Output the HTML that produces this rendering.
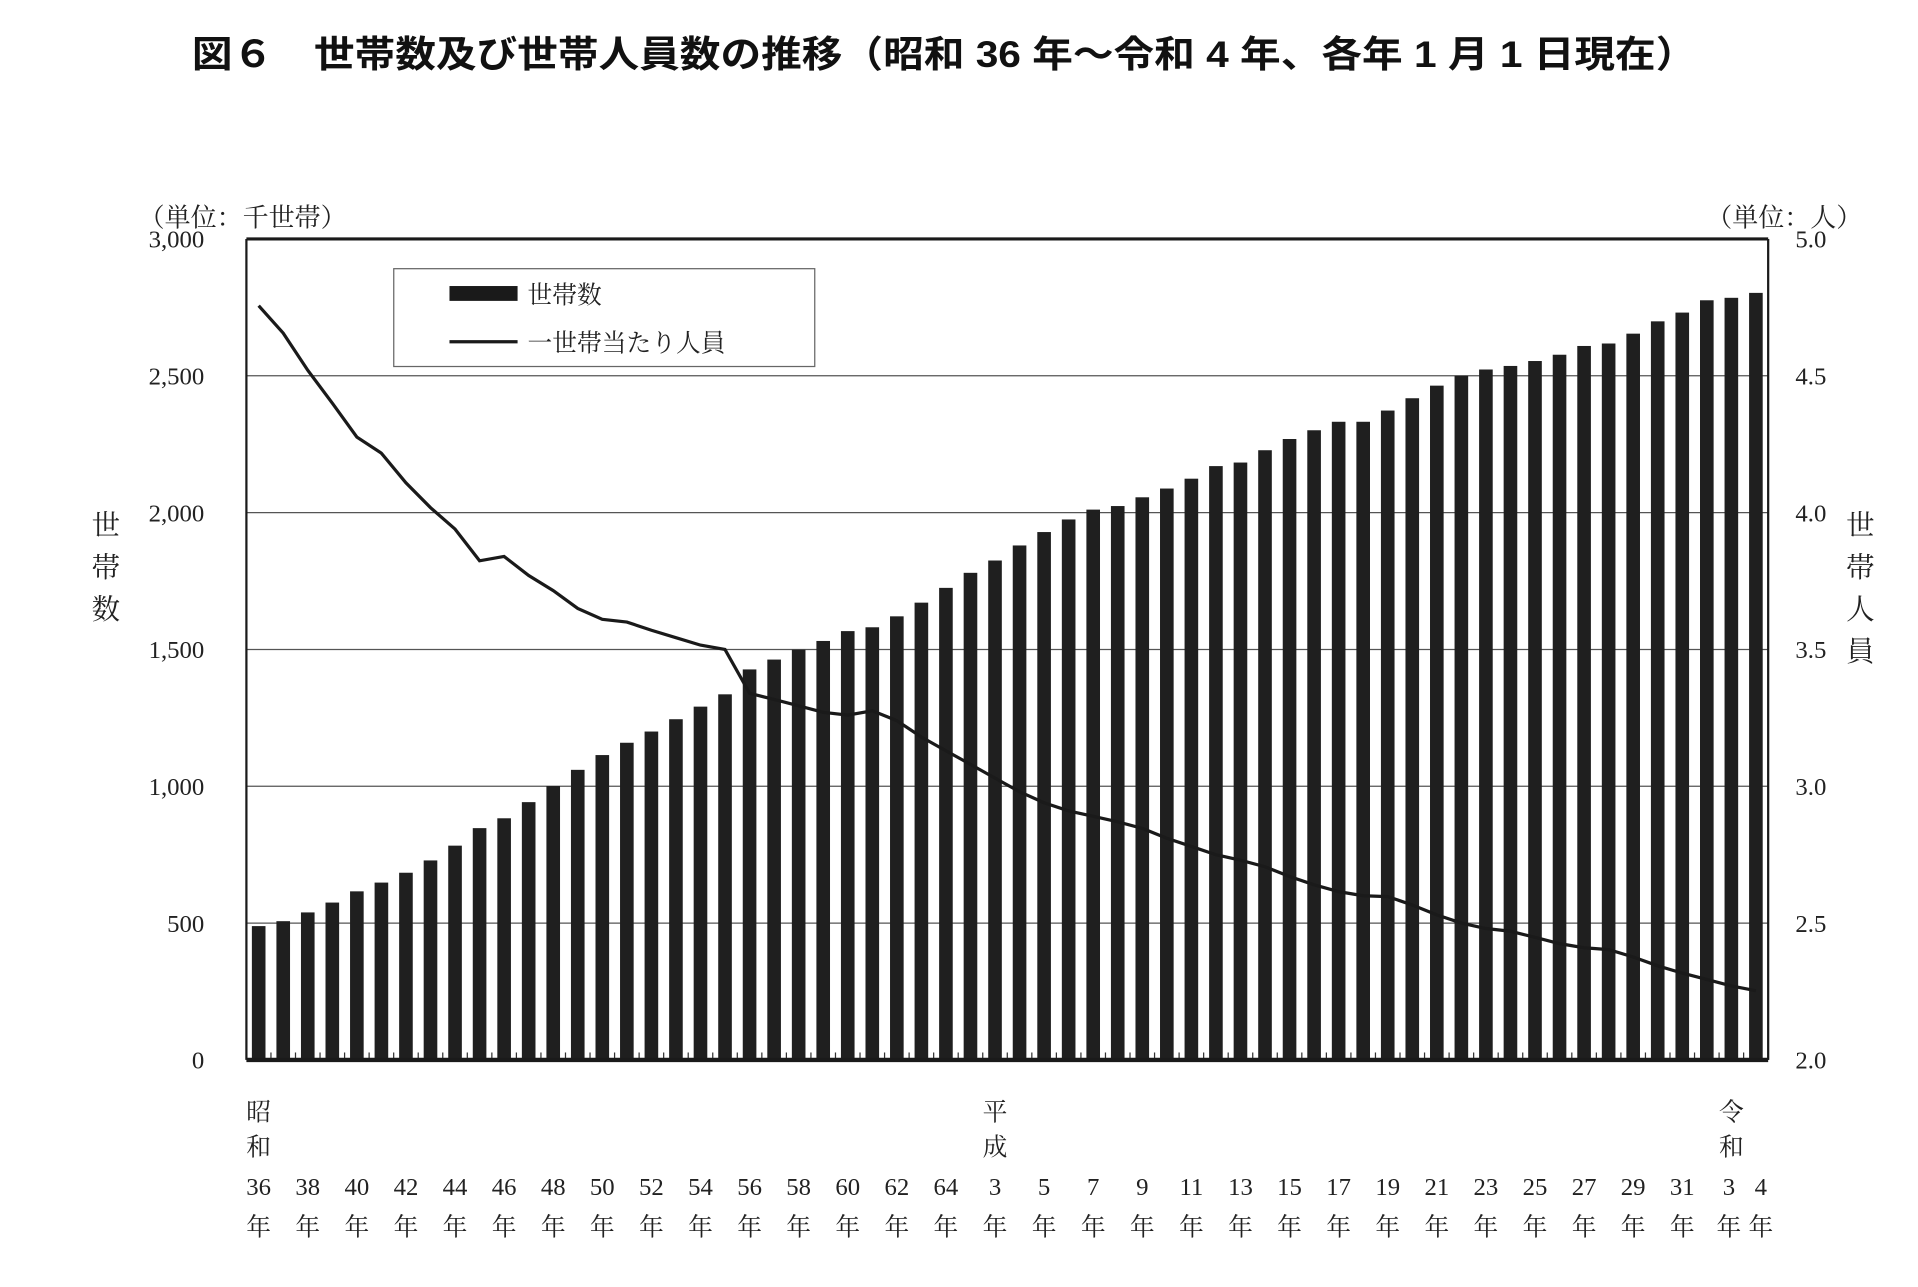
<!DOCTYPE html>
<html><head><meta charset="utf-8"><style>
html,body{margin:0;padding:0;background:#fff;}
svg{display:block;}
text{font-family:"Liberation Serif","Noto Serif CJK SC",serif;fill:#222;}
.title{font-family:"Liberation Sans","Noto Sans CJK JP",sans-serif;font-weight:bold;fill:#111;}
</style></head><body>
<svg id="chart" width="1918" height="1287" viewBox="0 0 1549 1039.4" xmlns="http://www.w3.org/2000/svg">
<rect width="1549" height="1040" fill="#fff"/>
<text class="title" x="155" y="54" font-size="30" textLength="1215" lengthAdjust="spacingAndGlyphs">図６　世帯数及び世帯人員数の推移（昭和 36 年～令和 4 年、各年 1 月 1 日現在）</text>
<text x="112" y="183" font-size="21">（単位：千世帯）</text>
<text x="1378" y="183" font-size="21">（単位：人）</text>
<g id="grid"></g>
<g id="bars"></g>
<g id="ticks"></g>
<path id="line" fill="none" stroke="#1a1a1a" stroke-width="2.6"/>
<g id="frame"></g>
<g id="yl"></g><g id="yr"></g><g id="xl"></g>
<g font-size="23">
<text x="74" y="432">世</text><text x="74" y="466">帯</text><text x="74" y="500">数</text></g>
<g font-size="23">
<text x="1491" y="432">世</text><text x="1491" y="466">帯</text><text x="1491" y="500">人</text><text x="1491" y="534">員</text></g>
<g>
<rect x="318" y="217" width="340" height="79" fill="#fff" stroke="#666" stroke-width="1"/>
<rect x="363" y="231" width="55" height="12" fill="#1a1a1a"/>
<text x="426" y="245" font-size="20">世帯数</text>
<line x1="363" y1="276" x2="418" y2="276" stroke="#1a1a1a" stroke-width="2.6"/>
<text x="426" y="284" font-size="20">一世帯当たり人員</text>
</g>
</svg>
<script>
const years = ["36","37","38","39","40","41","42","43","44","45","46","47","48","49","50","51","52","53","54","55","56","57","58","59","60","61","62","63","64","2","3","4","5","6","7","8","9","10","11","12","13","14","15","16","17","18","19","20","21","22","23","24","25","26","27","28","29","30","31","2","3","4"];
const households = [489,507,539,575,616,648,684,729,783,847,883,942,1001,1060,1114,1159,1200,1245,1291,1336,1427,1463,1499,1531,1567,1581,1621,1671,1725,1780,1825,1880,1929,1975,2011,2024,2056,2088,2124,2170,2183,2228,2269,2301,2332,2332,2373,2418,2464,2500,2523,2536,2554,2577,2609,2618,2654,2699,2731,2776,2785,2803];
const persons = [4.756,4.656,4.52,4.40,4.276,4.217,4.109,4.018,3.94,3.824,3.84,3.77,3.715,3.65,3.61,3.60,3.57,3.543,3.516,3.50,3.34,3.317,3.294,3.27,3.26,3.276,3.24,3.18,3.13,3.08,3.03,2.98,2.94,2.91,2.89,2.87,2.846,2.81,2.78,2.75,2.73,2.706,2.67,2.64,2.615,2.60,2.597,2.566,2.53,2.50,2.48,2.47,2.448,2.425,2.41,2.403,2.376,2.344,2.317,2.294,2.27,2.253];
const leftTicks = [0,500,1000,1500,2000,2500,3000];
const leftTickLabels = ["0","500","1,000","1,500","2,000","2,500","3,000"];
const rightTicks = [2.0,2.5,3.0,3.5,4.0,4.5,5.0];
const rightTickLabels = ["2.0","2.5","3.0","3.5","4.0","4.5","5.0"];
const labelIdx = [0,2,4,6,8,10,12,14,16,18,20,22,24,26,28,30,32,34,36,38,40,42,44,46,48,50,52,54,56,58,60,61];
const eraLabels = [[0,"昭","和"],[30,"平","成"],[60,"令","和"]];

const NS="http://www.w3.org/2000/svg";
const L=199,R=1428,T=193,B=856;
const band=(R-L)/years.length;
const xc=i=>L+band*(i+0.5);
const yL=v=>B-(v-0)/(3000-0)*(B-T);
const yR=v=>B-(v-2)/(5-2)*(B-T);
function mk(tag,attrs,parent){const e=document.createElementNS(NS,tag);for(const k in attrs)e.setAttribute(k,attrs[k]);document.getElementById(parent).appendChild(e);return e;}

leftTicks.forEach((v,i)=>{
  if(i>0&&i<leftTicks.length-1){const g=mk('line',{x1:L,x2:R,y1:yL(v),y2:yL(v),stroke:'#555','stroke-width':1},'grid');
  
  }
  const t=mk('text',{x:165,y:yL(v)+7,'font-size':20,'text-anchor':'end'},'yl');t.textContent=leftTickLabels[i];
  
  
});
rightTicks.forEach((v,i)=>{
  const t=mk('text',{x:1450,y:yR(v)+7,'font-size':20},'yr');t.textContent=rightTickLabels[i];
  
  
});
households.forEach((v,i)=>{
  const r=mk('rect',{x:xc(i)-5.5,y:yL(v),width:11,height:B-yL(v),fill:'#1f1f1f'},'bars');
  
  
  const tk=mk('line',{x1:L+band*(i+1),x2:L+band*(i+1),y1:B-6,y2:B,stroke:'#333','stroke-width':1},'ticks');
  
  
});
document.getElementById('line').setAttribute('d',persons.map((v,i)=>(i?'L':'M')+xc(i).toFixed(1)+' '+yR(v).toFixed(1)).join(' '));
labelIdx.forEach(i=>{
  const x=xc(i)-(i===60?2:0)+(i===61?4:0);
  const t=mk('text',{x:x,y:965,'font-size':20,'text-anchor':'middle'},'xl');t.textContent=years[i];
  
  
  const n=mk('text',{x:x,y:998,'font-size':20,'text-anchor':'middle'},'xl');n.textContent='年';
  
  
});
eraLabels.forEach(e=>{
  const a=mk('text',{x:xc(e[0]),y:905,'font-size':20,'text-anchor':'middle'},'xl');a.textContent=e[1];
  
  
  const b=mk('text',{x:xc(e[0]),y:933,'font-size':20,'text-anchor':'middle'},'xl');b.textContent=e[2];
  
  
});
const f1=mk('line',{x1:L,x2:R,y1:T,y2:T,stroke:'#1a1a1a','stroke-width':2.5},'frame');


const f2=mk('line',{x1:L,x2:L,y1:T,y2:B,stroke:'#1a1a1a','stroke-width':1.8},'frame');


const f3=mk('line',{x1:R,x2:R,y1:T,y2:B,stroke:'#1a1a1a','stroke-width':1.8},'frame');


const f4=mk('line',{x1:L,x2:R,y1:B,y2:B,stroke:'#1a1a1a','stroke-width':3.5},'frame');


</script>
</body></html>
